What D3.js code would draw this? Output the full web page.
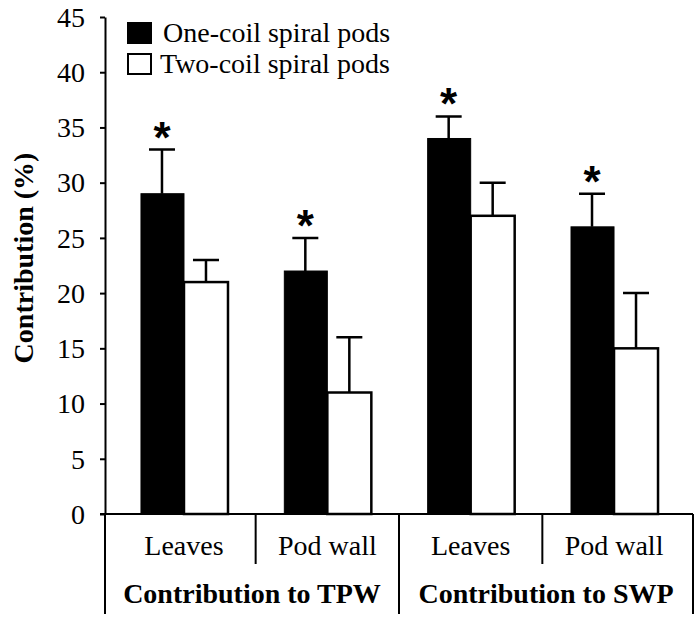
<!DOCTYPE html>
<html><head><meta charset="utf-8">
<script src="https://cdn.jsdelivr.net/npm/d3@7"></script>
<style>body{margin:0;background:#fff}</style>
</head><body>
<svg id="c" width="700" height="623"></svg>
<script>
const categories = ["Leaves","Pod wall","Leaves","Pod wall"];
const groups = ["Contribution to TPW","Contribution to SWP"];
const seriesNames = ["One-coil spiral pods","Two-coil spiral pods"];
const oneCoil = [29,22,34,26];
const oneCoilErr = [4,3,2,3];
const twoCoil = [21,11,27,15];
const twoCoilErr = [2,5,3,5];
const significant = [true,true,true,true];
const yTicks = [0,5,10,15,20,25,30,35,40,45];

const svg = d3.select("#c");
const serif = "'Liberation Serif','Times New Roman',serif";
const fs = 28;
const x0 = 105, x1 = 693, yBase = 514, yTop = 17;

const x = d3.scaleBand().domain(d3.range(categories.length)).range([x0,x1])
  .paddingInner(0.386).paddingOuter(0.244);
const xs = d3.scaleBand().domain([0,1]).range([0,x.bandwidth()]);
const y = d3.scaleLinear().domain([0,45]).range([yBase,yTop]);

const series = [
  {vals:oneCoil, err:oneCoilErr, fill:"#000"},
  {vals:twoCoil, err:twoCoilErr, fill:"#fff"}
];

series.forEach((s,si)=>{
  const g = svg.append("g");
  g.selectAll("rect").data(s.vals).join("rect")
    .attr("x",(d,i)=>x(i)+xs(si)+(si?0:1))
    .attr("width",xs.bandwidth()-(si?0:1))
    .attr("y",d=>y(d))
    .attr("height",d=>y(0)-y(d))
    .attr("fill",s.fill).attr("stroke","#000").attr("stroke-width",si?2.5:1);
  g.selectAll("path.err").data(s.vals).join("path").attr("class","err")
    .attr("d",(d,i)=>{
      const cx = x(i)+xs(si)+xs.bandwidth()/2;
      const yt = y(d+s.err[i]);
      return `M${cx},${y(d)}V${yt}M${cx-13},${yt}H${cx+13}`;
    })
    .attr("stroke","#000").attr("stroke-width",2.5).attr("fill","none");
});

svg.selectAll("text.star").data(oneCoil.map((d,i)=>({d,i})).filter(o=>significant[o.i])).join("text")
  .attr("class","star")
  .attr("x",o=>x(o.i)+xs(0)+xs.bandwidth()/2)
  .attr("y",o=>y(o.d+oneCoilErr[o.i])+3)
  .attr("text-anchor","middle")
  .attr("font-family","'Liberation Sans',Arial,sans-serif").attr("font-weight","bold")
  .attr("font-size",44).text("*");

const ya = svg.append("g").attr("transform",`translate(${x0},0)`)
  .call(d3.axisLeft(y).tickValues(yTicks).tickSize(5).tickSizeOuter(0).tickPadding(15));
ya.select(".domain").attr("stroke-width",2);
ya.selectAll(".tick line").attr("stroke-width",2);
ya.selectAll("text").attr("font-family",serif).attr("font-size",fs).attr("fill","#000").attr("dy","0.33em");

svg.append("line").attr("x1",x0-5).attr("x2",x1).attr("y1",yBase).attr("y2",yBase)
  .attr("stroke","#000").attr("stroke-width",2);

const step = x.step();
const gap = step*x.paddingInner();
const divs = [x0];
for(let i=0;i<categories.length-1;i++) divs.push(x(i)+x.bandwidth()+gap/2);
divs.push(x1);
svg.selectAll("line.div").data(divs).join("line").attr("class","div")
  .attr("x1",d=>d).attr("x2",d=>d).attr("y1",yBase)
  .attr("y2",(d,i)=> (i%2===0) ? 614 : 564)
  .attr("stroke","#000").attr("stroke-width",2);

svg.selectAll("text.cat").data(categories).join("text").attr("class","cat")
  .attr("x",(d,i)=>x(i)+x.bandwidth()/2).attr("y",555)
  .attr("text-anchor","middle").attr("font-family",serif).attr("font-size",fs).text(d=>d);

svg.selectAll("text.grp").data(groups).join("text").attr("class","grp")
  .attr("x",(d,i)=>(divs[i*2]+divs[i*2+2])/2).attr("y",603)
  .attr("text-anchor","middle").attr("font-family",serif).attr("font-weight","bold")
  .attr("font-size",fs).text(d=>d);

svg.append("text").attr("transform","translate(33,258) rotate(-90)")
  .attr("text-anchor","middle").attr("font-family",serif).attr("font-weight","bold")
  .attr("font-size",fs).text("Contribution (%)");

const lg = svg.append("g");
seriesNames.forEach((n,i)=>{
  lg.append("rect").attr("x",128).attr("y",23+i*31).attr("width",23).attr("height",20)
    .attr("fill",i?"#fff":"#000").attr("stroke","#000").attr("stroke-width",2);
  lg.append("text").attr("x",i?160:163).attr("y",42+i*31).attr("font-family",serif)
    .attr("font-size",fs).text(n);
});
</script>
</body></html>
